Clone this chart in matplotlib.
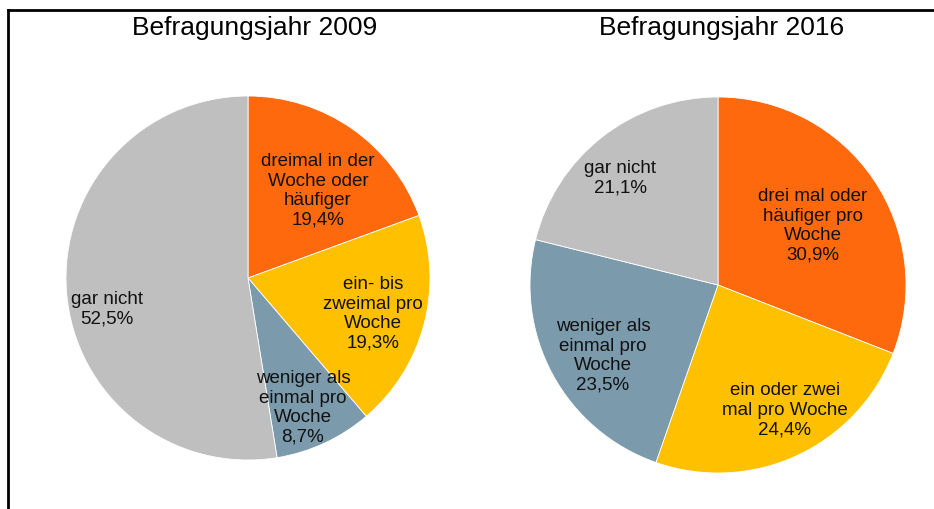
import matplotlib.pyplot as plt
from matplotlib.lines import Line2D

plt.rcParams["font.family"] = ["Liberation Sans", "DejaVu Sans"]

# survey results, share of respondents in percent
labels_2009 = ["dreimal in der\nWoche oder\nhäufiger", "ein- bis\nzweimal pro\nWoche",
               "weniger als\neinmal pro\nWoche", "gar nicht"]
values_2009 = [19.4, 19.3, 8.7, 52.5]

labels_2016 = ["drei mal oder\nhäufiger pro\nWoche", "ein oder zwei\nmal pro Woche",
               "weniger als\neinmal pro\nWoche", "gar nicht"]
values_2016 = [30.9, 24.4, 23.5, 21.1]

colors = ["#FF690E", "#FFC000", "#7B9BAC", "#BFBFBF"]

W, H = 934, 509
fig = plt.figure(figsize=(W / 100, H / 100), dpi=100)


def px_axes(cx, cy, r):
    # square axes from a centre and radius given in pixels (top-left origin)
    return fig.add_axes([(cx - r) / W, (H - cy - r) / H, 2 * r / W, 2 * r / H])


def draw_pie(ax, values, labels, label_pos, title, title_x):
    ax.pie(values, colors=colors, startangle=90, counterclock=False,
           wedgeprops=dict(edgecolor="white", linewidth=0.6))
    ax.set_xlim(-1, 1)
    ax.set_ylim(-1, 1)
    for v, lab, (x, y) in zip(values, labels, label_pos):
        txt = f"{lab}\n{v:.1f}%".replace(".", ",")
        ax.text(x, y, txt, ha="center", va="center", fontsize=13.5,
                linespacing=1.2, color="#111111")
    fig.text(title_x / W, 1 - 28 / H, title, ha="center", va="center", fontsize=19)


ax1 = px_axes(248, 278, 182)
draw_pie(ax1, values_2009, labels_2009,
         [(0.385, 0.478), (0.687, -0.198), (0.302, -0.714), (-0.775, -0.170)],
         "Befragungsjahr 2009", 255)

ax2 = px_axes(718, 285, 188)
draw_pie(ax2, values_2016, labels_2016,
         [(0.505, 0.314), (0.356, -0.665), (-0.612, -0.378), (-0.521, 0.569)],
         "Befragungsjahr 2016", 722)

# outer frame, only its left and top edges are inside the image
fig.add_artist(Line2D([8 / W, 8 / W], [0, 1 - 10 / H], color="black", lw=2))
fig.add_artist(Line2D([8 / W, 1], [1 - 10 / H, 1 - 10 / H], color="black", lw=2))

fig.savefig("out.png", dpi=100)
